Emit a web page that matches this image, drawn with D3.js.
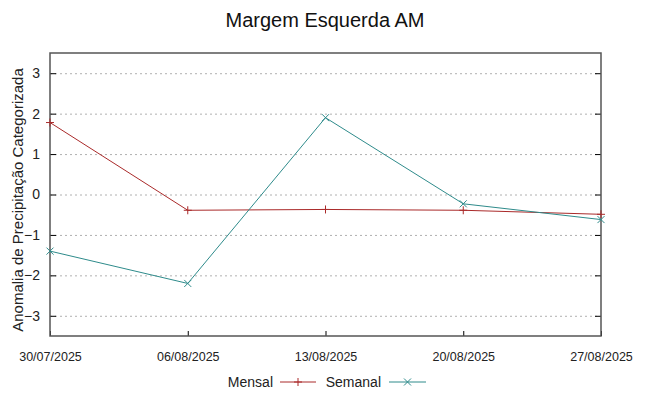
<!DOCTYPE html>
<html>
<head>
<meta charset="utf-8">
<script src="https://cdn.jsdelivr.net/npm/d3@7"></script>
<style>
  body { margin: 0; background: #fff; }
  svg { font-family: "Liberation Sans", Arial, sans-serif; }
</style>
</head>
<body>
<div class="canvas"></div>
<script>
// chart data
const dates = ['30/07/2025', '06/08/2025', '13/08/2025', '20/08/2025', '27/08/2025'];
const mensal = [1.78, -0.39, -0.37, -0.39, -0.49];
const semanal = [-1.40, -2.20, 1.90, -0.23, -0.62];
const yTicks = [-3, -2, -1, 0, 1, 2, 3];

const width = 649, height = 396;
const margin = { top: 53, right: 48, bottom: 60, left: 50 };
const graphWidth = width - margin.left - margin.right;
const graphHeight = height - margin.top - margin.bottom;

const svg = d3.select('.canvas')
    .append('svg')
    .attr('width', width)
    .attr('height', height);

const graph = svg.append('g')
    .attr('transform', `translate(${margin.left}, ${margin.top})`);

const parse = d3.timeParse('%d/%m/%Y');
const x = d3.scaleTime()
    .domain([parse(dates[0]), parse(dates[dates.length - 1])])
    .range([0, graphWidth]);
const y = d3.scaleLinear().domain([-3.5, 3.5]).range([graphHeight, 0]);

// dotted grid
graph.append('g')
    .selectAll('line')
    .data(yTicks)
    .enter().append('line')
    .attr('x1', 0).attr('x2', graphWidth)
    .attr('y1', d => y(d) + 0.5).attr('y2', d => y(d) + 0.5)
    .attr('stroke', '#b0b0b0')
    .attr('stroke-width', 1)
    .attr('stroke-dasharray', '2,3');

// axes (gnuplot style: inward ticks, labels outside)
const yAxisL = d3.axisLeft(y).tickValues(yTicks).tickSizeInner(-6).tickSizeOuter(0)
    .tickPadding(10).tickFormat(d3.format('d'));
const yAxisR = d3.axisRight(y).tickValues(yTicks).tickSizeInner(-6).tickSizeOuter(0).tickFormat('');
const xAxis = d3.axisBottom(x).tickValues(dates.map(parse)).tickSizeInner(-5).tickSizeOuter(0)
    .tickPadding(16).tickFormat(d3.timeFormat('%d/%m/%Y'));

const gl = graph.append('g').call(yAxisL);
const gr = graph.append('g').attr('transform', `translate(${graphWidth}, 0)`).call(yAxisR);
const gx = graph.append('g').attr('transform', `translate(0, ${graphHeight})`).call(xAxis);

[gl, gr, gx].forEach(g => {
    g.select('.domain').remove();
    g.selectAll('line').attr('stroke', '#000');
});
gl.selectAll('text').attr('font-size', 14).attr('fill', '#222');
gx.selectAll('text').attr('font-size', 12.5).attr('fill', '#222');

// border
graph.append('rect')
    .attr('width', graphWidth).attr('height', graphHeight)
    .attr('fill', 'none').attr('stroke', '#555').attr('stroke-width', 1.5);

const series = [
    { name: 'Mensal', values: mensal, color: '#aa2a2a', mark: 'plus' },
    { name: 'Semanal', values: semanal, color: '#2e8b8b', mark: 'cross' }
];

const line = d3.line()
    .x((d, i) => x(parse(dates[i])))
    .y(d => y(d));

const markerPath = (mark, s) => mark === 'plus'
    ? `M${-s},0H${s}M0,${-s}V${s}`
    : `M${-s},${-s}L${s},${s}M${-s},${s}L${s},${-s}`;

series.forEach(s => {
    graph.append('path')
        .datum(s.values)
        .attr('d', line)
        .attr('fill', 'none')
        .attr('stroke', s.color)
        .attr('stroke-width', 1);

    graph.selectAll(null)
        .data(s.values)
        .enter().append('path')
        .attr('transform', (d, i) => `translate(${x(parse(dates[i]))}, ${y(d)})`)
        .attr('d', markerPath(s.mark, s.mark === 'plus' ? 4 : 3.5))
        .attr('stroke', s.color)
        .attr('stroke-width', 1);
});

// title
svg.append('text')
    .attr('x', 325).attr('y', 27)
    .attr('text-anchor', 'middle')
    .attr('font-size', 20)
    .attr('fill', '#111')
    .text('Margem Esquerda AM');

// y label
svg.append('text')
    .attr('transform', `translate(23, 200) rotate(-90)`)
    .attr('text-anchor', 'middle')
    .attr('font-size', 15)
    .attr('fill', '#222')
    .text('Anomalia de Precipitação Categorizada');

// legend
const legend = svg.append('g').attr('transform', 'translate(0, 382)');
const legendItems = [
    { textEnd: 273, x1: 280, x2: 316 },
    { textEnd: 381, x1: 389, x2: 426 }
];
series.forEach((s, i) => {
    const li = legendItems[i];
    legend.append('text')
        .attr('x', li.textEnd).attr('y', 5)
        .attr('text-anchor', 'end')
        .attr('font-size', 14)
        .attr('fill', '#222')
        .text(s.name);
    legend.append('line')
        .attr('x1', li.x1).attr('x2', li.x2)
        .attr('stroke', s.color).attr('stroke-width', 1);
    legend.append('path')
        .attr('transform', `translate(${(li.x1 + li.x2) / 2}, 0)`)
        .attr('d', markerPath(s.mark, s.mark === 'plus' ? 4 : 3.5))
        .attr('stroke', s.color);
});
</script>
</body>
</html>
